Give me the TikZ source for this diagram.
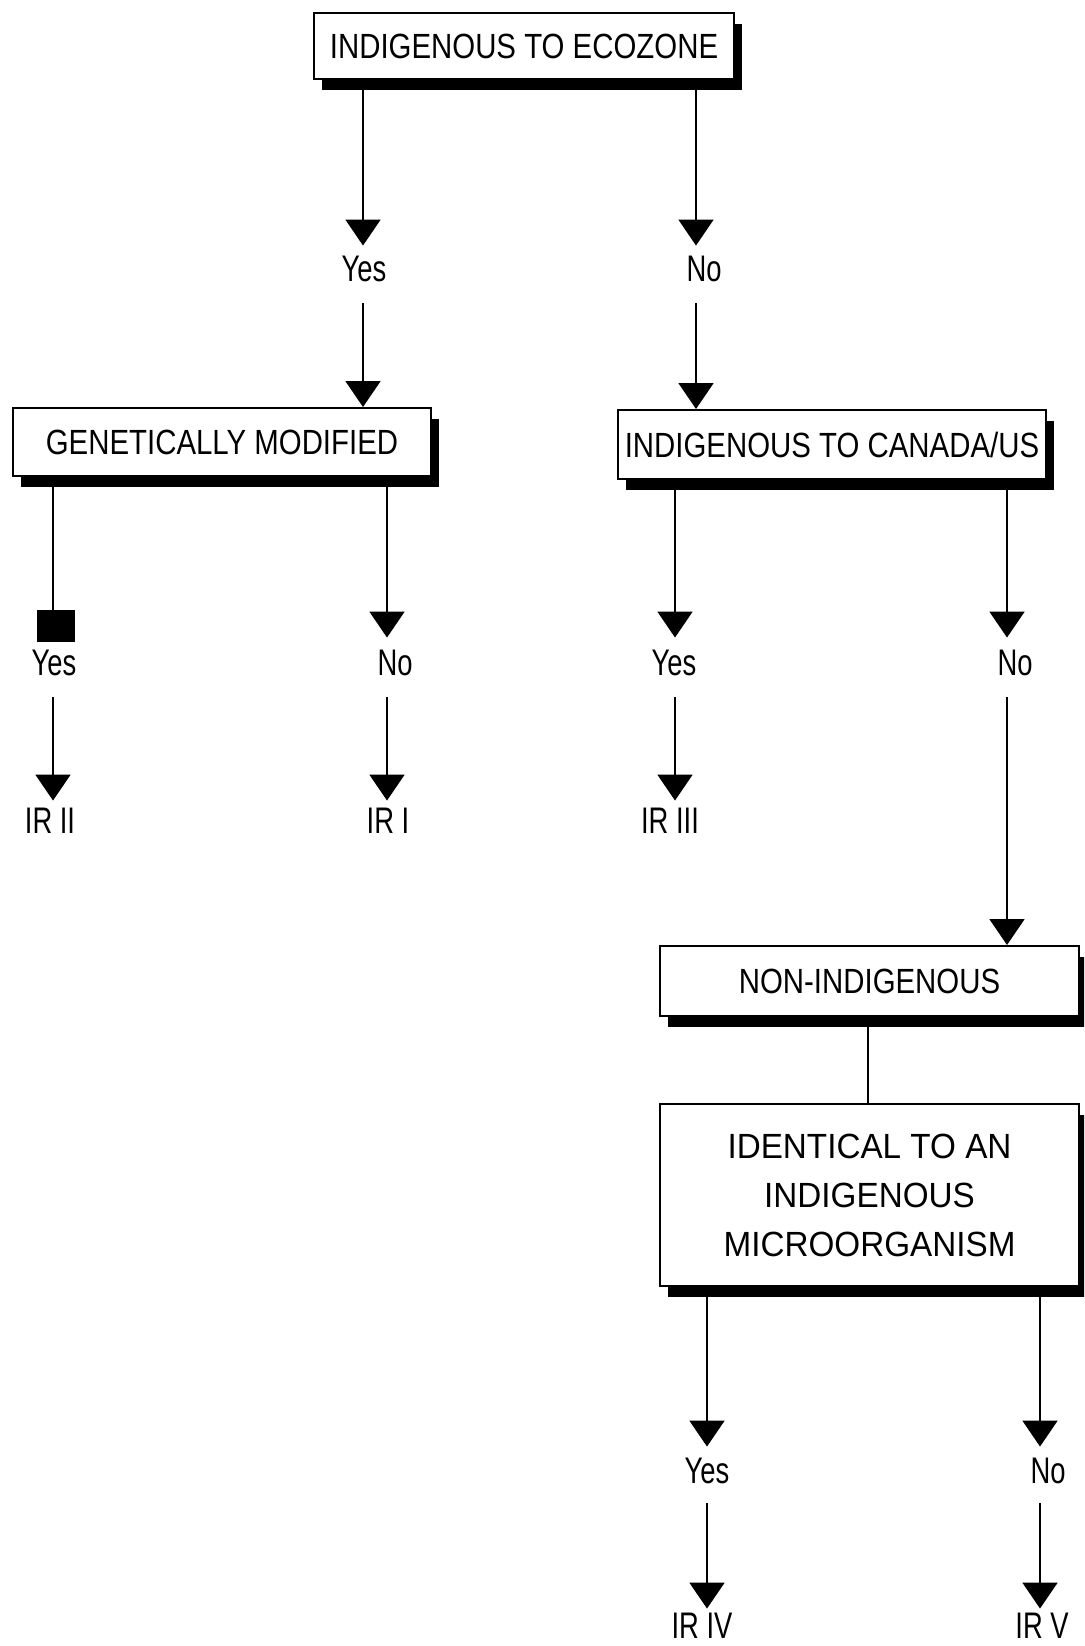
\documentclass[tikz,border=0pt]{standalone}
\usepackage{fontspec}
\setmainfont{Liberation Sans}
\newfontfamily\boxfont[FakeStretch=0.84]{Liberation Sans}
\newfontfamily\boxbigfont[FakeStretch=0.95]{Liberation Sans}
\newfontfamily\lblfont[FakeStretch=0.74]{Liberation Sans}
\usetikzlibrary{arrows.meta,shadows}
\begin{document}
\begin{tikzpicture}[x=1pt,y=-1pt,
  shadowbox/.style={draw=black, line width=2pt, fill=white, inner sep=0pt,
     drop shadow={shadow xshift=8pt, shadow yshift=-11pt, fill=black, opacity=1}},
  boxtext/.style={font=\boxfont\fontsize{35pt}{42pt}\selectfont, text height=25pt, text depth=0pt},
  bigtext/.style={font=\boxbigfont\fontsize{35pt}{49pt}\selectfont, align=center},
  lbl/.style={inner sep=0pt, font=\lblfont\fontsize{37pt}{44pt}\selectfont, text height=26.5pt, text depth=0pt},
  arr/.style={line width=2pt, -{Triangle[width=35pt,length=26pt]}},
  conn/.style={line width=2pt},
]
\useasboundingbox (0,0) rectangle (1084,1646);
\clip (0,0) rectangle (1084,1646);

% boxes
\node[shadowbox, boxtext, minimum width=420pt, minimum height=66pt] (box1) at (524,46) {INDIGENOUS TO ECOZONE};
\node[shadowbox, boxtext, minimum width=418pt, minimum height=68pt] (box2) at (222,442) {GENETICALLY MODIFIED};
\node[shadowbox, boxtext, minimum width=428pt, minimum height=69pt] (box3) at (832,444.5) {INDIGENOUS TO CANADA/US};
\node[shadowbox, boxtext, minimum width=419pt, minimum height=70pt] (box4) at (869.5,981) {NON-INDIGENOUS};
\node[shadowbox, bigtext, minimum width=419pt, minimum height=182pt] (box5) at (869.5,1195) {IDENTICAL TO AN\\INDIGENOUS\\MICROORGANISM};

% labels
\node[lbl] (yes1) at (364,268) {Yes};
\node[lbl] (no1) at (704,268) {No};
\node[lbl] (yes2) at (54,662) {Yes};
\node[lbl] (no2) at (395,662) {No};
\node[lbl] (yes3) at (674,662) {Yes};
\node[lbl] (no3) at (1015,662) {No};
\node[lbl] (ir2) at (50,820) {IR II};
\node[lbl] (ir1) at (388,820) {IR I};
\node[lbl] (ir3) at (670,820) {IR III};
\node[lbl] (yes4) at (707,1470) {Yes};
\node[lbl] (no4) at (1048,1470) {No};
\node[lbl] (ir4) at (702,1625) {IR IV};
\node[lbl] (ir5) at (1042,1625) {IR V};

% black square marker
\node[fill=black, minimum width=38pt, minimum height=32pt, inner sep=0pt] (sq) at (56,626) {};

% branch lines
\coordinate (bA) at (363,0);
\coordinate (bB) at (696,0);
\coordinate (bC) at (53,0);
\coordinate (bD) at (387,0);
\coordinate (bE) at (675,0);
\coordinate (bF) at (1007,0);
\coordinate (bG) at (868,0);
\coordinate (bH) at (707,0);
\coordinate (bI) at (1040,0);

\draw[arr, shorten >=9pt] (box1.south -| bA) -- (yes1.north -| bA);
\draw[arr, shorten >=9pt] (box1.south -| bB) -- (no1.north -| bB);
\draw[arr, shorten <=22pt] (yes1.south -| bA) -- (box2.north -| bA);
\draw[arr, shorten <=22pt] (no1.south -| bB) -- (box3.north -| bB);

\draw[conn] (box2.south -| bC) -- (sq.north -| bC);
\draw[arr, shorten >=11pt] (box2.south -| bD) -- (no2.north -| bD);
\draw[arr, shorten >=11pt] (box3.south -| bE) -- (yes3.north -| bE);
\draw[arr, shorten >=11pt] (box3.south -| bF) -- (no3.north -| bF);

\draw[arr, shorten <=22pt, shorten >=6pt] (yes2.south -| bC) -- (ir2.north -| bC);
\draw[arr, shorten <=22pt, shorten >=6pt] (no2.south -| bD) -- (ir1.north -| bD);
\draw[arr, shorten <=22pt, shorten >=6pt] (yes3.south -| bE) -- (ir3.north -| bE);
\draw[arr, shorten <=22pt] (no3.south -| bF) -- (box4.north -| bF);

\draw[conn] (box4.south -| bG) -- (box5.north -| bG);

\draw[arr, shorten >=10pt] (box5.south -| bH) -- (yes4.north -| bH);
\draw[arr, shorten >=10pt] (box5.south -| bI) -- (no4.north -| bI);
\draw[arr, shorten <=20pt, shorten >=3pt] (yes4.south -| bH) -- (ir4.north -| bH);
\draw[arr, shorten <=20pt, shorten >=3pt] (no4.south -| bI) -- (ir5.north -| bI);
\end{tikzpicture}
\end{document}
